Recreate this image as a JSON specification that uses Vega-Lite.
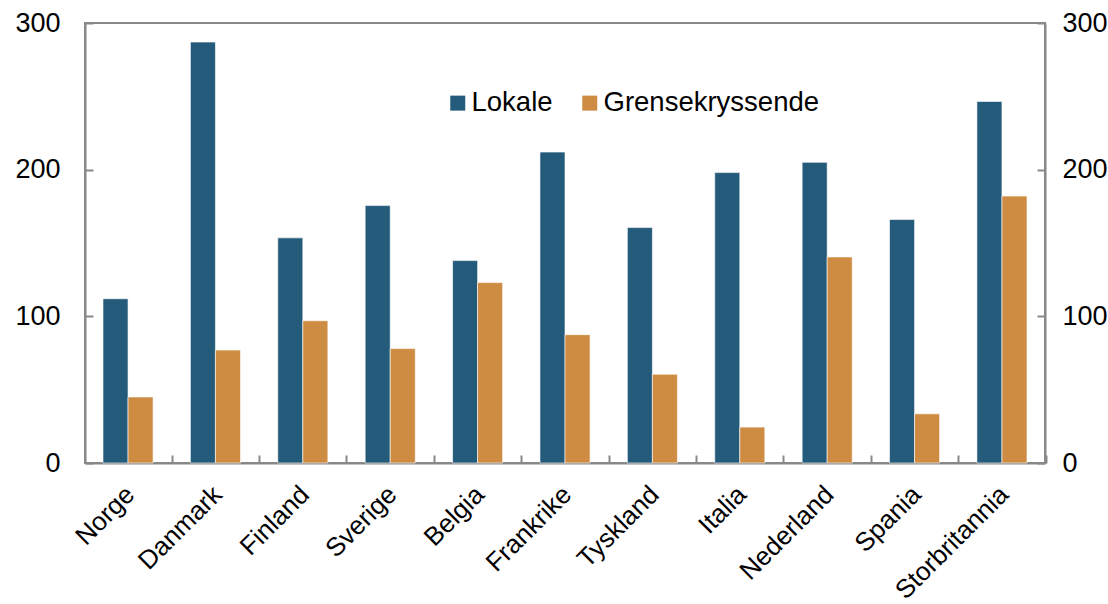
{
  "$schema": "https://vega.github.io/schema/vega-lite/v6.json",
  "width": 960,
  "height": 440,
  "autosize": {"type": "none"},
  "padding": {"left": 85, "top": 23, "right": 63, "bottom": 141},
  "background": "white",
  "config": {
    "font": "Liberation Sans",
    "view": {"stroke": "#888888", "strokeWidth": 2},
    "axis": {
      "domainColor": "#888888",
      "domainWidth": 2,
      "tickColor": "#888888",
      "tickWidth": 2,
      "labelColor": "#000000",
      "labelFont": "Liberation Sans",
      "grid": false,
      "title": null
    }
  },
  "data": {
    "values": [
      {"land": "Norge", "serie": "Lokale", "verdi": 112},
      {"land": "Norge", "serie": "Grensekryssende", "verdi": 45},
      {"land": "Danmark", "serie": "Lokale", "verdi": 287},
      {"land": "Danmark", "serie": "Grensekryssende", "verdi": 77},
      {"land": "Finland", "serie": "Lokale", "verdi": 153.5},
      {"land": "Finland", "serie": "Grensekryssende", "verdi": 97},
      {"land": "Sverige", "serie": "Lokale", "verdi": 175.5},
      {"land": "Sverige", "serie": "Grensekryssende", "verdi": 78},
      {"land": "Belgia", "serie": "Lokale", "verdi": 138},
      {"land": "Belgia", "serie": "Grensekryssende", "verdi": 123},
      {"land": "Frankrike", "serie": "Lokale", "verdi": 212},
      {"land": "Frankrike", "serie": "Grensekryssende", "verdi": 87.5},
      {"land": "Tyskland", "serie": "Lokale", "verdi": 160.5},
      {"land": "Tyskland", "serie": "Grensekryssende", "verdi": 60.5},
      {"land": "Italia", "serie": "Lokale", "verdi": 198},
      {"land": "Italia", "serie": "Grensekryssende", "verdi": 24.5},
      {"land": "Nederland", "serie": "Lokale", "verdi": 205},
      {"land": "Nederland", "serie": "Grensekryssende", "verdi": 140.5},
      {"land": "Spania", "serie": "Lokale", "verdi": 166},
      {"land": "Spania", "serie": "Grensekryssende", "verdi": 33.5},
      {"land": "Storbritannia", "serie": "Lokale", "verdi": 246.5},
      {"land": "Storbritannia", "serie": "Grensekryssende", "verdi": 182}
    ]
  },
  "encoding": {
    "x": {
      "field": "land",
      "type": "nominal",
      "sort": null,
      "scale": {"paddingInner": 0.427, "paddingOuter": 0.206},
      "axis": {
        "labelAngle": -45,
        "labelFontSize": 26,
        "labelPadding": 26,
        "tickSize": -8,
        "tickOffset": 43.65,
        "labelOffset": -51,
        "labelOverlap": false,
        "labelBound": false,
        "labelFlush": false
      }
    },
    "xOffset": {"field": "serie", "type": "nominal", "sort": ["Lokale", "Grensekryssende"]},
    "y": {
      "field": "verdi",
      "type": "quantitative",
      "scale": {"domain": [0, 300], "nice": false},
      "axis": {"values": [0, 100, 200, 300], "labelFontSize": 27, "tickSize": -8, "labelPadding": 33}
    },
    "color": {
      "field": "serie",
      "type": "nominal",
      "sort": ["Lokale", "Grensekryssende"],
      "scale": {"domain": ["Lokale", "Grensekryssende"], "range": ["#245B7A", "#CE8B42"]},
      "legend": {
        "title": null,
        "orient": "none",
        "legendX": 359,
        "legendY": 66,
        "direction": "horizontal",
        "symbolType": "square",
        "symbolSize": 225,
        "symbolStrokeWidth": 0,
        "labelFontSize": 27.5,
        "labelFont": "Liberation Sans",
        "labelColor": "#000000",
        "labelLimit": 500,
        "labelOffset": 0,
        "columnPadding": 23
      }
    }
  },
  "layer": [
    {"mark": {"type": "bar", "stroke": "white", "strokeWidth": 0.6}},
    {
      "mark": {"type": "bar", "opacity": 0},
      "encoding": {
        "y": {
          "field": "verdi",
          "type": "quantitative",
          "axis": {"orient": "right", "values": [0, 100, 200, 300], "labelFontSize": 27, "tickSize": -8, "labelPadding": 25}
        }
      }
    }
  ],
  "resolve": {"axis": {"y": "independent"}}
}
